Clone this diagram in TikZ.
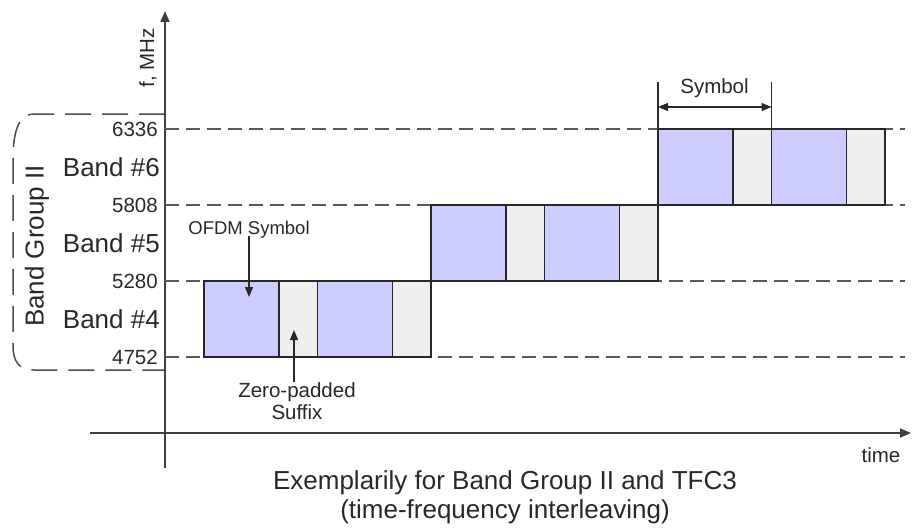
\documentclass[tikz,border=0pt]{standalone}
\usepackage{fontspec}
\setmainfont{Liberation Sans}
\usetikzlibrary{arrows.meta}
\definecolor{sblue}{RGB}{204,204,255}
\definecolor{sgrey}{RGB}{238,238,238}
\definecolor{ink}{RGB}{40,40,40}
\begin{document}
\begin{tikzpicture}[x=1pt,y=-1pt,
  blk/.style={draw=ink, line width=1.4pt, minimum height=76pt, inner sep=0pt, outer sep=0pt, anchor=north west},
  ofdm/.style={blk, fill=sblue, minimum width=75pt},
  zps/.style={blk, fill=sgrey, minimum width=38.5pt},
  lvl/.style={draw=black!65, line width=1.6pt, dash pattern=on 14pt off 7pt},
  small/.style={font=\fontsize{20.5}{24}\selectfont, text=ink, inner sep=0pt},
  big/.style={font=\fontsize{26}{30}\selectfont, text=ink, inner sep=0pt},
  axis/.style={draw=black!75, line width=1.8pt},
  tip/.style={-{Triangle[length=11pt,width=9pt]}},
  ptr/.style={draw=ink, line width=1.3pt, -{Triangle[length=10pt,width=8pt]}}
]
\useasboundingbox (0,0) rectangle (912,527);

% axes
\coordinate (ybot) at (165,468);
\coordinate (ytop) at (165,11);
\coordinate (tl) at (90,433);
\coordinate (tr) at (911,433);
\draw[axis,tip] (ybot) -- (ytop);
\draw[axis,tip] (tl) -- (tr);
\node[small, rotate=90] (fmhz) at (148,58) {f, MHz};
\node[small] (time) at (881,455) {time};

% level lines
\foreach \n/\y in {l6336/129, l5808/205, l5280/281, l4752/357}{
  \coordinate (\n a) at (165,\y);
  \coordinate (\n b) at (905,\y);
  \draw[lvl] (\n a) -- (\n b);
}

% labels
\node[small, anchor=east] (n6336) at (158,129) {6336};
\node[small, anchor=east] (n5808) at (158,205) {5808};
\node[small, anchor=east] (n5280) at (158,281) {5280};
\node[small, anchor=east] (n4752) at (158,357) {4752};
\node[big, anchor=east] (b6) at (160,167) {Band \#6};
\node[big, anchor=east] (b5) at (160,243) {Band \#5};
\node[big, anchor=east] (b4) at (160,319) {Band \#4};

% band group bracket
\draw[draw=black!70, line width=1.5pt, dash pattern=on 26pt off 11pt]
  (165,114) -- (34,114) .. controls (20,114) and (13,128) .. (13,160)
  -- (13,345) .. controls (13,362) and (19,370) .. (34,370) -- (165,370);
\node[big, rotate=90] (bg) at (37,246) {Band Group II};

% symbols
\node[ofdm] (s1) at (204,281) {};
\node[zps]  (z1) at (279,281) {};
\node[ofdm] (s2) at (317.5,281) {};
\node[zps]  (z2) at (392.5,281) {};
\node[ofdm] (s3) at (431,205) {};
\node[zps]  (z3) at (506,205) {};
\node[ofdm] (s4) at (544.5,205) {};
\node[zps]  (z4) at (619.5,205) {};
\node[ofdm] (s5) at (658,129) {};
\node[zps]  (z5) at (733,129) {};
\node[ofdm] (s6) at (771.5,129) {};
\node[zps]  (z6) at (846.5,129) {};

% symbol dimension
\coordinate (d1) at (658,82);
\coordinate (d2) at (771.5,82);
\draw[draw=ink, line width=1.2pt] (d1) -- (s5.north west);
\draw[draw=ink, line width=1.2pt] (d2) -- (s6.north west);
\coordinate (d1m) at (658,107);
\coordinate (d2m) at (771.5,107);
\draw[draw=ink, line width=1.2pt, {Triangle[length=10pt,width=8pt]}-{Triangle[length=10pt,width=8pt]}] (d1m) -- (d2m);
\node[small] (symlbl) at (714.5,88) {Symbol};

% annotations
\node[small, font=\fontsize{18.5}{22}\selectfont] (ofdmlbl) at (249,230) {OFDM Symbol};
\coordinate (oa) at (249,297);
\draw[ptr] (ofdmlbl.south -| oa) ++(0,-3) -- (oa);
\node[small, align=center, font=\fontsize{20.5}{22}\selectfont] (zplbl) at (297,401) {Zero-padded\\Suffix};
\coordinate (za) at (294,330);
\draw[ptr] (zplbl.north -| za) -- (za);

% caption
\node[big, align=center, font=\fontsize{26}{29}\selectfont] (cap) at (505,497) {Exemplarily for Band Group II and TFC3\\(time-frequency interleaving)};
\end{tikzpicture}
\end{document}
